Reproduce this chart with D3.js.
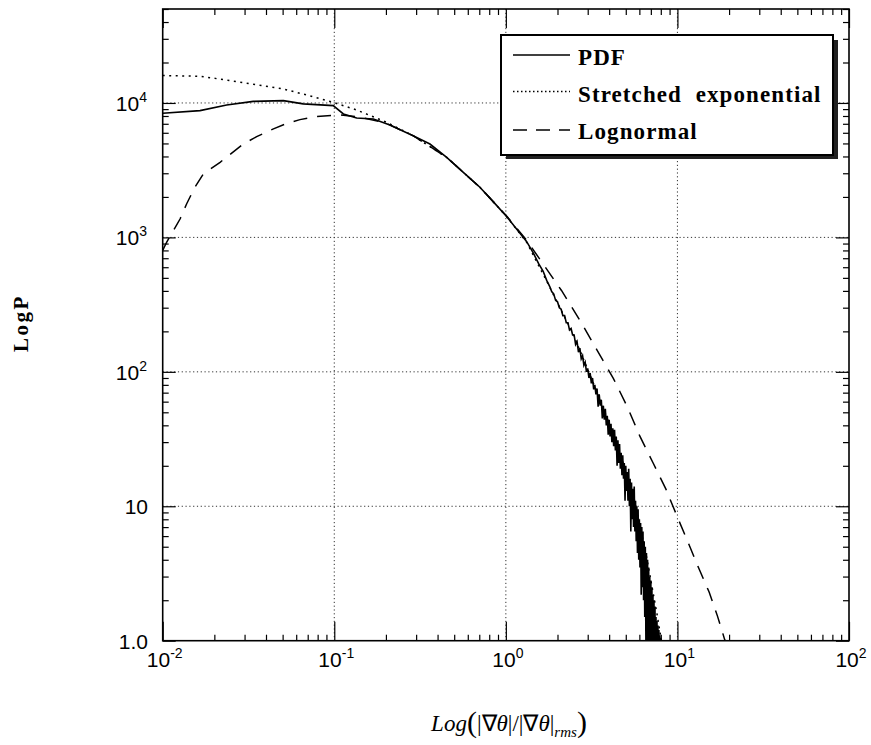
<!DOCTYPE html>
<html>
<head>
<meta charset="utf-8">
<script src="https://cdn.jsdelivr.net/npm/d3@7"></script>
<style>
  body { margin:0; background:#fff; }
  svg { display:block; }
</style>
</head>
<body>
<div id="chart"></div>
<script>
// PDF of |grad theta| / |grad theta|_rms
var pdfX = [0.010, 0.0165, 0.0236, 0.0337, 0.0505, 0.0659, 0.0986, 0.113, 0.135, 0.169,
  0.211, 0.288, 0.361, 0.452, 0.565, 0.706, 0.883, 1.01, 1.32, 1.45, 1.55, 1.65, 1.73,
  1.8, 1.85, 1.9, 1.95, 2.0, 2.05, 2.1, 2.15, 2.2, 2.25, 2.3, 2.35, 2.4, 2.45, 2.5, 2.55,
  2.6, 2.65, 2.7, 2.75, 2.8, 2.85, 2.9, 2.95, 3.0, 3.05, 3.1, 3.15, 3.2, 3.25, 3.3, 3.35,
  3.4, 3.45, 3.5, 3.55, 3.6, 3.65, 3.7, 3.75, 3.8, 3.85, 3.9, 3.95, 4.0, 4.05, 4.1, 4.15,
  4.2, 4.25, 4.3, 4.35, 4.4, 4.45, 4.5, 4.55, 4.6, 4.65, 4.7, 4.75, 4.8, 4.85, 4.9, 4.95,
  5.0, 5.05, 5.1, 5.15, 5.2, 5.25, 5.3, 5.35, 5.4, 5.45, 5.5, 5.55, 5.6, 5.65, 5.7, 5.75,
  5.8, 5.85, 5.9, 5.95, 6.0, 6.05, 6.1, 6.15, 6.2, 6.25, 6.3, 6.35, 6.4, 6.45, 6.5, 6.55,
  6.6, 6.65, 6.7, 6.75, 6.8, 6.85, 6.9, 6.95, 7.0, 7.05, 7.1, 7.15, 7.2, 7.25, 7.3, 7.35,
  7.4, 7.45, 7.5, 7.55, 7.6, 7.65, 7.7, 7.75, 7.8, 7.85, 7.9, 7.95, 8.0, 8.05];
var pdfP = [8380, 8770, 9660, 10280, 10400, 9840, 9550, 8280, 7730, 7600,
  6850, 5710, 4950, 3940, 3050, 2360, 1730, 1430, 933, 760, 640, 560, 479,
  433, 395, 380, 340, 332, 300, 292, 262, 262, 232, 232, 205, 210, 188, 188, 160,
  168, 140, 150, 125, 132, 112, 118, 100, 106, 90, 98, 82, 90, 74, 80, 68,
  75, 55, 68, 56, 62, 45, 56, 44, 53, 40, 47, 34, 44, 33, 41, 30,
  38, 28, 37, 26, 33, 20, 31, 21, 29, 19, 25, 17, 24, 16, 21, 11,
  20, 13, 18, 11, 19, 10, 16, 6.5, 15, 8, 13.5, 7, 14, 6.5, 11, 5.5,
  10, 4.5, 9.5, 4, 8, 3.5, 7.5, 2.2, 7, 2.5, 6.5, 2, 5.5, 1.5, 5, 1,
  4.5, 0.8, 4, 0.6, 3.5, 0.5, 3, 0.5, 2.8, 0.5, 2.5, 0.5, 2.2, 0.5, 2, 0.5,
  1.8, 0.5, 1.5, 0.5, 1.4, 0.5, 1.3, 0.5, 1.2, 0.5, 1.1, 0.5, 1.05, 0.5];

// stretched exponential fit
var stretchX = [0.01, 0.0165, 0.0236, 0.0337, 0.0505, 0.0721, 0.0986, 0.135, 0.202, 0.288,
  0.452, 0.706, 1.01, 1.32, 1.73, 2.47, 3.38, 4.43, 5.52, 6.61, 7.59, 8.3];
var stretchP = [16000, 15800, 14800, 13800, 12700, 11300, 10100, 8870, 7180, 5710,
  3940, 2360, 1430, 923, 473, 190, 72, 29.5, 12.3, 4.2, 1.6, 0.8];

// lognormal fit
var lognX = [0.01, 0.01054, 0.01262, 0.0138, 0.0154, 0.01726, 0.0216, 0.0295, 0.0353, 0.0442,
  0.0528, 0.0631, 0.0789, 0.108, 0.141, 0.2, 0.288, 0.452, 0.706, 1.01, 1.32, 1.62, 2.11,
  2.70, 3.38, 4.23, 5.12, 6.04, 7.23, 8.57, 10.0, 11.6, 13.3, 15.3, 17.1, 18.9, 20];
var lognP = [800, 920, 1370, 1780, 2360, 2970, 3620, 4950, 5620, 6410,
  7050, 7520, 7940, 8150, 7850, 7080, 5710, 3940, 2360, 1445, 955, 655, 403,
  242, 147, 89.5, 54.5, 33.2, 20.9, 13.4, 8.3, 5.3, 3.47, 2.30, 1.53, 1.01, 0.88];

var xMajor = [0.01, 0.1, 1, 10, 100];
var xExp = ["-2", "-1", "0", "1", "2"];
var yMajor = [1, 10, 100, 1000, 10000];
var yBase = ["1.0", "10", "10", "10", "10"];
var yExp = ["", "", "2", "3", "4"];
var legendNames = ["PDF", "Stretched\u00a0\u00a0exponential", "Lognormal"];

var width = 871, height = 745;
var pLeft = 162.7, pRight = 849, pTop = 9, pBottom = 640.7;

var x = d3.scaleLog().domain([0.01, 100]).range([pLeft, pRight]);
var y = d3.scaleLog().domain([1, 50000]).range([pBottom, pTop]);

var svg = d3.select("#chart").append("svg")
  .attr("width", width)
  .attr("height", height);

svg.append("clipPath").attr("id", "clip")
  .append("rect")
  .attr("x", pLeft).attr("y", pTop)
  .attr("width", pRight - pLeft).attr("height", pBottom - pTop);

// minor tick values, 2..9 inside every decade
var xMinor = [], yMinor = [];
[0.01, 0.1, 1, 10].forEach(function(d) {
  for (var k = 2; k < 10; k++) xMinor.push(d * k);
});
[1, 10, 100, 1000, 10000].forEach(function(d) {
  for (var k = 2; k < 10; k++) if (d * k <= 50000) yMinor.push(d * k);
});

// dotted grid
var grid = svg.append("g").attr("stroke", "#333").attr("stroke-width", 1)
  .attr("stroke-dasharray", "1.2,2.6");
grid.selectAll(".gx").data([0.1, 1, 10]).enter().append("line")
  .attr("x1", x).attr("x2", x).attr("y1", pTop).attr("y2", pBottom);
grid.selectAll(".gy").data([10, 100, 1000, 10000]).enter().append("line")
  .attr("y1", y).attr("y2", y).attr("x1", pLeft).attr("x2", pRight);

// ticks (inward, on all four sides)
function ticks(axis, vals, size, tr) {
  svg.append("g").attr("transform", tr)
    .call(axis.tickValues(vals).tickSize(size).tickFormat(""))
    .call(function(g) {
      g.select(".domain").remove();
      g.selectAll("line").attr("stroke", "#000").attr("stroke-width", 1.2);
    });
}
ticks(d3.axisBottom(x), xMajor, -19, "translate(0," + pBottom + ")");
ticks(d3.axisBottom(x), xMinor, -6, "translate(0," + pBottom + ")");
ticks(d3.axisTop(x), xMajor, -19, "translate(0," + pTop + ")");
ticks(d3.axisTop(x), xMinor, -6, "translate(0," + pTop + ")");
ticks(d3.axisLeft(y), yMajor, -13, "translate(" + pLeft + ",0)");
ticks(d3.axisLeft(y), yMinor, -6, "translate(" + pLeft + ",0)");
ticks(d3.axisRight(y), yMajor, -13, "translate(" + pRight + ",0)");
ticks(d3.axisRight(y), yMinor, -6, "translate(" + pRight + ",0)");

svg.append("rect")
  .attr("x", pLeft).attr("y", pTop)
  .attr("width", pRight - pLeft).attr("height", pBottom - pTop)
  .attr("fill", "none").attr("stroke", "#000").attr("stroke-width", 1.6);

// tick labels
var xl = svg.append("g").attr("font-family", "Liberation Sans, Arial, sans-serif")
  .attr("font-size", 21).attr("text-anchor", "middle");
xl.selectAll("text").data(xMajor).enter().append("text")
  .attr("x", function(d) { return x(d) + 2; })
  .attr("y", 667)
  .each(function(d, i) {
    var t = d3.select(this);
    t.append("tspan").text("10");
    t.append("tspan").attr("font-size", 14).attr("dy", -9).text(xExp[i]);
  });

var yl = svg.append("g").attr("font-family", "Liberation Sans, Arial, sans-serif")
  .attr("font-size", 21).attr("text-anchor", "end");
yl.selectAll("text").data(yMajor).enter().append("text")
  .attr("x", function(d, i) { return yExp[i] ? 147 : 148; })
  .attr("y", function(d) { return y(d) + 8; })
  .each(function(d, i) {
    var t = d3.select(this);
    t.append("tspan").text(yBase[i]);
    if (yExp[i]) t.append("tspan").attr("font-size", 14).attr("dy", -9).text(yExp[i]);
  });

// axis titles
svg.append("text")
  .attr("transform", "translate(28,323) rotate(-90)")
  .attr("text-anchor", "middle")
  .attr("font-family", "Liberation Serif, Times New Roman, serif")
  .attr("font-weight", "bold").attr("font-size", 21)
  .attr("letter-spacing", 2.5)
  .text("LogP");

var xt = svg.append("text")
  .attr("x", 509).attr("y", 731)
  .attr("text-anchor", "middle")
  .attr("font-family", "Liberation Serif, Times New Roman, serif")
  .attr("font-size", 23);
xt.append("tspan").attr("font-style", "italic").text("Log");
xt.append("tspan").attr("font-size", 30).attr("dy", 1).text("(");
xt.append("tspan").attr("dy", -1).text("|\u2207");
xt.append("tspan").attr("font-style", "italic").text("\u03b8");
xt.append("tspan").text("|/|\u2207");
xt.append("tspan").attr("font-style", "italic").text("\u03b8");
xt.append("tspan").text("|");
xt.append("tspan").attr("font-style", "italic").attr("font-size", 15).attr("dy", 6).text("rms");
xt.append("tspan").attr("font-size", 30).attr("dy", -5).text(")");

// curves
var line = d3.line()
  .x(function(d) { return x(d[0]); })
  .y(function(d) { return y(d[1]); });

var plot = svg.append("g").attr("clip-path", "url(#clip)").attr("fill", "none");
plot.append("path").datum(d3.zip(stretchX, stretchP))
  .attr("d", line).attr("stroke", "#000").attr("stroke-width", 1.5)
  .attr("stroke-dasharray", "2,4.5");
plot.append("path").datum(d3.zip(lognX, lognP))
  .attr("d", line).attr("stroke", "#000").attr("stroke-width", 1.5)
  .attr("stroke-dasharray", "14,10");
plot.append("path").datum(d3.zip(pdfX, pdfP))
  .attr("d", line).attr("stroke", "#000").attr("stroke-width", 1.6);

// legend with drop shadow
var lg = svg.append("g");
lg.append("rect").attr("x", 506).attr("y", 40).attr("width", 332).attr("height", 119)
  .attr("fill", "#222");
lg.append("rect").attr("x", 501).attr("y", 35).attr("width", 332).attr("height", 120)
  .attr("fill", "#fff").attr("stroke", "#000").attr("stroke-width", 2);

var dashes = ["none", "1.5,2.5", "14,9"];
var rowY = [55, 91.5, 130];
var baseY = [65, 101.5, 138.5];
lg.selectAll(".ls").data(legendNames).enter().append("line")
  .attr("x1", 513).attr("x2", 570)
  .attr("y1", function(d, i) { return rowY[i]; })
  .attr("y2", function(d, i) { return rowY[i]; })
  .attr("stroke", "#000").attr("stroke-width", 1.4)
  .attr("stroke-dasharray", function(d, i) { return dashes[i]; });
lg.selectAll(".lt").data(legendNames).enter().append("text")
  .attr("x", 578)
  .attr("y", function(d, i) { return baseY[i]; })
  .attr("font-family", "Liberation Serif, Times New Roman, serif")
  .attr("font-weight", "bold").attr("font-size", 23)
  .attr("letter-spacing", 1.1)
  .text(function(d) { return d; });
</script>
</body>
</html>
